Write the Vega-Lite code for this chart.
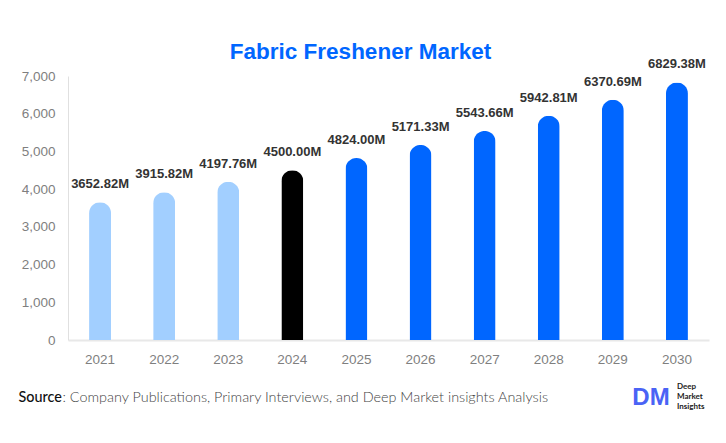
{
  "$schema": "https://vega.github.io/schema/vega-lite/v6.json",
  "width": 641,
  "height": 264,
  "autosize": {"type": "none"},
  "padding": {"left": 68, "top": 76, "right": 17, "bottom": 103},
  "background": "white",
  "view": {"stroke": null},
  "title": {"text": "Fabric Freshener Market", "font": "Liberation Sans", "fontSize": 22.5, "fontWeight": "bold", "color": "#0066ff", "anchor": "middle", "offset": -5, "dx": -28},
  "config": {"font": "Liberation Sans"},
  "encoding": {
    "x": {"field": "year", "type": "nominal", "scale": {"paddingInner": 0.66, "paddingOuter": 0.33},
      "axis": {"title": ": Company Publications, Primary Interviews, and Deep Market insights Analysis", "titleFont": "Lato", "titleFontSize": 14.4, "titleFontWeight": 300, "titleColor": "#444444", "titleAlign": "left", "titleBaseline": "alphabetic", "titleX": -6, "titleY": 61, "titleAnchor": null, "labelAngle": 0, "labelFontSize": 13.5, "labelColor": "#7f7f7f", "labelPadding": 12, "ticks": false, "domainColor": "#e8e8e8", "domainWidth": 2}},
    "y": {"field": "value", "type": "quantitative", "scale": {"domain": [0, 7000], "nice": false},
      "axis": {"title": "Source", "titleFont": "Lato", "titleFontSize": 14.4, "titleFontWeight": 500, "titleColor": "#111111", "titleAngle": 0, "titleAlign": "left", "titleBaseline": "alphabetic", "titleX": -50, "titleY": 325, "values": [0, 1000, 2000, 3000, 4000, 5000, 6000, 7000], "labelOverlap": false, "format": ",d", "grid": false, "ticks": false, "labelFontSize": 13.5, "labelColor": "#7f7f7f", "labelPadding": 13, "domainColor": "#e0e0e0"}}
  },
  "layer": [
    {
      "data": {"values": [
        {"year": "2021", "value": 3652.82, "phase": "historic", "label": "3652.82M"},
        {"year": "2022", "value": 3915.82, "phase": "historic", "label": "3915.82M"},
        {"year": "2023", "value": 4197.76, "phase": "historic", "label": "4197.76M"},
        {"year": "2024", "value": 4500.00, "phase": "base", "label": "4500.00M"},
        {"year": "2025", "value": 4824.00, "phase": "forecast", "label": "4824.00M"},
        {"year": "2026", "value": 5171.33, "phase": "forecast", "label": "5171.33M"},
        {"year": "2027", "value": 5543.66, "phase": "forecast", "label": "5543.66M"},
        {"year": "2028", "value": 5942.81, "phase": "forecast", "label": "5942.81M"},
        {"year": "2029", "value": 6370.69, "phase": "forecast", "label": "6370.69M"},
        {"year": "2030", "value": 6829.38, "phase": "forecast", "label": "6829.38M"}
      ]},
      "layer": [
        {
          "mark": {"type": "bar", "width": 22, "cornerRadiusTopLeft": 11, "cornerRadiusTopRight": 11},
          "encoding": {"color": {"field": "phase", "type": "nominal", "scale": {"domain": ["historic", "base", "forecast"], "range": ["#a2cfff", "#000000", "#0066ff"]}, "legend": null}}
        },
        {
          "mark": {"type": "text", "baseline": "alphabetic", "dy": -14, "fontSize": 13, "fontWeight": "bold", "color": "#333333"},
          "encoding": {"text": {"field": "label"}}
        }
      ]
    },
    {
      "data": {"values": [{"year": "2030", "value": -1530, "text": "DM"}]},
      "mark": {"type": "text", "dx": -26, "baseline": "middle", "align": "center", "font": "Liberation Sans", "fontSize": 24, "fontWeight": "bold", "color": "#4a63f5"},
      "encoding": {"text": {"field": "text"}}
    },
    {
      "data": {"values": [
        {"year": "2030", "value": -1250, "text": "Deep"},
        {"year": "2030", "value": -1510, "text": "Market"},
        {"year": "2030", "value": -1770, "text": "Insights"}
      ]},
      "mark": {"type": "text", "dx": 0, "baseline": "middle", "align": "left", "font": "Lato", "fontSize": 8, "fontWeight": "bold", "color": "#222222"},
      "encoding": {"text": {"field": "text"}}
    }
  ]
}
